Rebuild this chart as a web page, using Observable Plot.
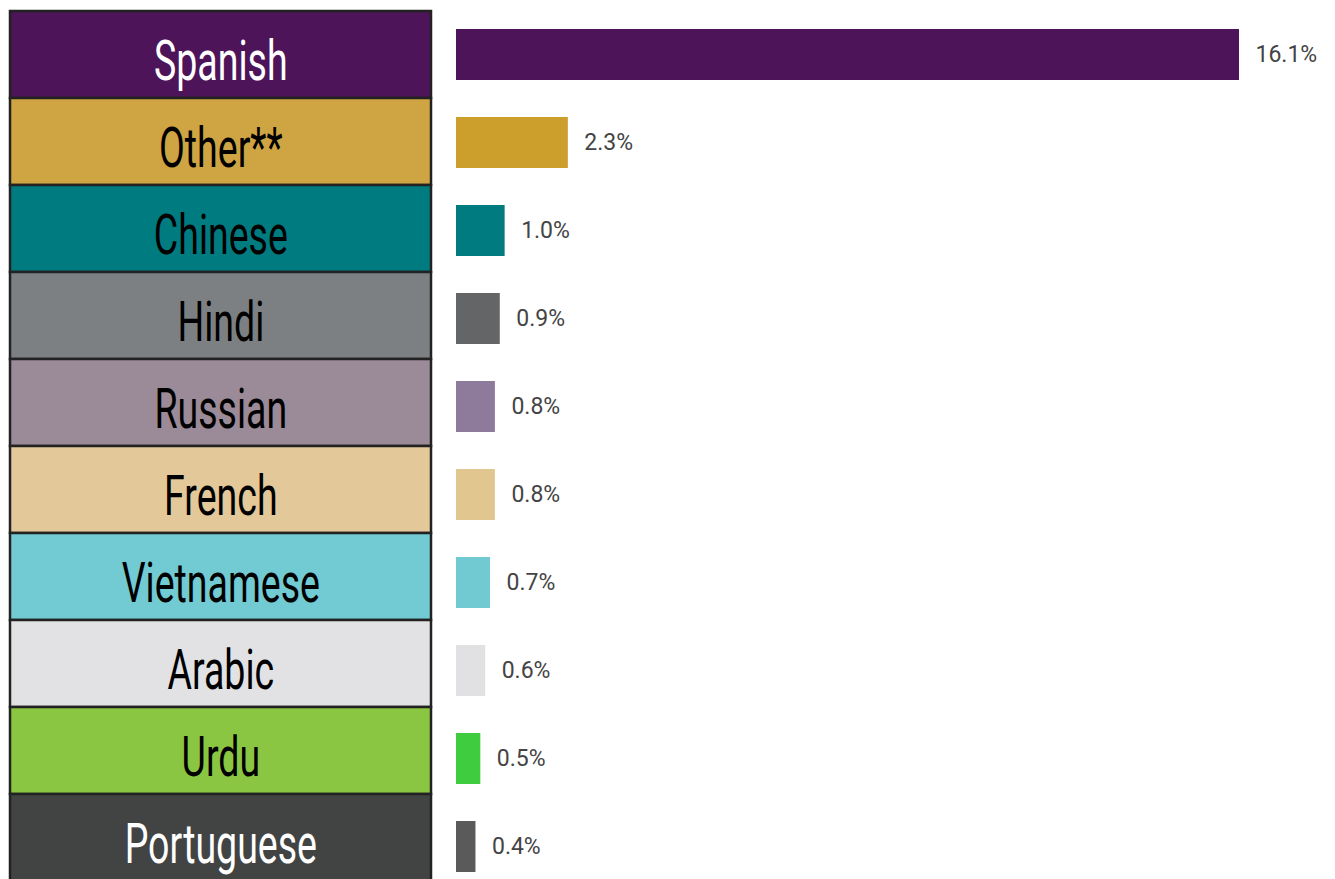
<!DOCTYPE html>
<html>
<head>
<meta charset="utf-8">
<script src="https://cdn.jsdelivr.net/npm/d3@7"></script>
<script src="https://cdn.jsdelivr.net/npm/@observablehq/plot@0.6"></script>
<style>
  html, body { margin: 0; padding: 0; background: #ffffff; }
  #chart { display: flex; flex-direction: row; width: 1335px; height: 879px; overflow: hidden; }
  #chart svg { display: block; }
</style>
</head>
<body>
<div id="chart"></div>
<script>
const languages = ["Spanish", "Other**", "Chinese", "Hindi", "Russian", "French", "Vietnamese", "Arabic", "Urdu", "Portuguese"];
const shares = [16.1, 2.3, 1.0, 0.9, 0.8, 0.8, 0.7, 0.6, 0.5, 0.4];
const barColors = ["#4d1459", "#cc9e2c", "#007b80", "#646566", "#8e7a9a", "#e2c68f", "#71cad2", "#e1e1e3", "#3fcc3f", "#5a5a5a"];
const boxColors = ["#4d1459", "#cfa543", "#007b80", "#7d8083", "#9b8a97", "#e3c899", "#72cad2", "#e2e2e4", "#8bc642", "#424443"];
const labelColors = ["#ffffff", "#000000", "#000000", "#000000", "#000000", "#000000", "#000000", "#000000", "#000000", "#ffffff"];

const rows = languages.map((lang, i) => ({
  lang, share: shares[i], bar: barColors[i], box: boxColors[i], ink: labelColors[i]
}));

const H = 879;
const LW = 441;

const left = Plot.plot({
  width: LW,
  height: H,
  marginLeft: 10,
  marginRight: 10,
  x: {axis: null},
  y: {domain: languages, range: [9, 883], padding: 0, axis: null},
  color: {type: "identity"},
  marks: [
    Plot.cell(rows, {y: "lang", fill: "box", stroke: "#222222", strokeWidth: 2.5, inset: 0}),
    Plot.text(rows, {
      y: "lang", text: "lang", fill: "ink", frameAnchor: "middle",
      fontSize: 56, fontWeight: 400, dy: 7,
      fontFamily: "Roboto, 'DejaVu Sans Condensed', sans-serif"
    })
  ]
});

// condense the label glyphs horizontally (the reference uses a condensed display face)
{
  const svgNS = "http://www.w3.org/2000/svg";
  const textG = left.querySelector('g[aria-label="text"]');
  if (textG) {
    const wrap = document.createElementNS(svgNS, "g");
    const cx = 10 + (LW - 20) / 2;
    wrap.setAttribute("transform", `translate(${cx},0) scale(0.67,1) translate(${-cx},0)`);
    textG.parentNode.insertBefore(wrap, textG);
    wrap.appendChild(textG);
  }
}

const right = Plot.plot({
  width: 1335 - LW,
  height: H,
  marginLeft: 15,
  marginRight: 96,
  x: {domain: [0, 16.1], axis: null},
  y: {domain: languages, range: [11, 891], paddingInner: 0.42, paddingOuter: 0.21, axis: null},
  color: {type: "identity"},
  marks: [
    Plot.barX(rows, {y: "lang", x: "share", fill: "bar"}),
    Plot.text(rows, {
      y: "lang", x: "share", text: d => d.share.toFixed(1) + "%",
      textAnchor: "start", dx: 16, fill: "#444444",
      fontSize: 23, fontFamily: "Roboto, sans-serif"
    })
  ]
});

const chart = document.getElementById("chart");
chart.appendChild(left);
chart.appendChild(right);
</script>
</body>
</html>
